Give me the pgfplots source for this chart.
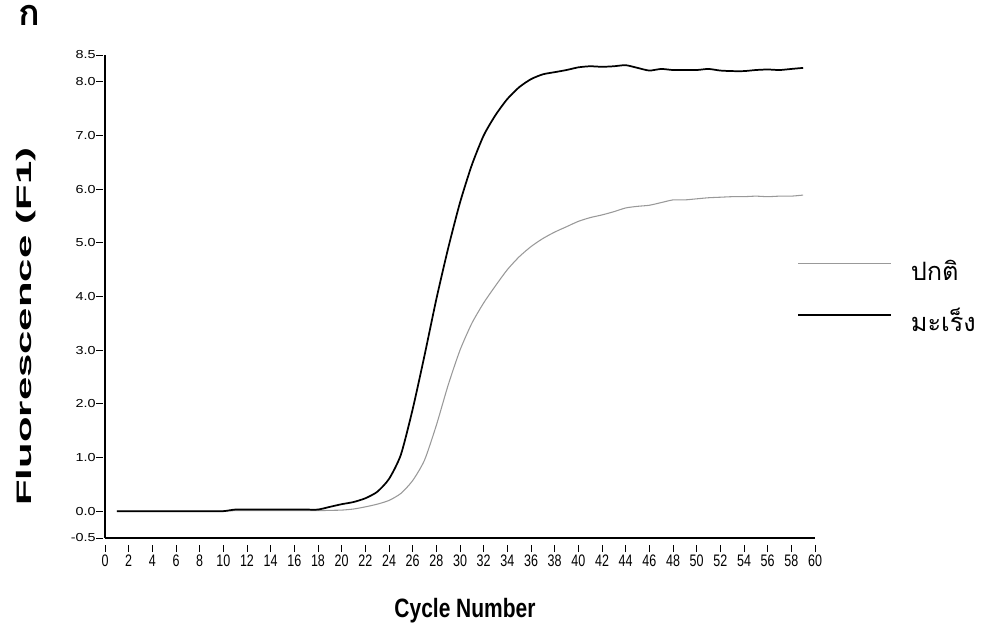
\documentclass[border=0pt]{standalone}
\usepackage{pgfplots}
\pgfplotsset{compat=1.18}
\usepackage{fontspec}
\setmainfont{Liberation Sans}
\newfontfamily\thaifont[Script=Thai]{Loma}
\begin{document}
\begin{tikzpicture}
\useasboundingbox (0,0) rectangle (735.75pt,471pt);
\node[anchor=base west, inner sep=0pt] at (13.5pt,451.5pt) {\thaifont\bfseries\fontsize{27}{30}\selectfont ก};
\begin{axis}[
  at={(78.75pt,67.5pt)}, anchor=south west,
  scale only axis, width=532.5pt, height=362.25pt,
  xmin=0, xmax=60, ymin=-0.5, ymax=8.5,
  axis x line=bottom, axis y line=left,
  axis line style={-, line width=0.8pt},
  xtick={0,2,...,60},
  ytick={-0.5,0,1,2,3,4,5,6,7,8,8.5},
  /pgf/number format/assume math mode=true,
  xticklabel={\scalebox{0.75}[1]{\pgfmathprintnumber{\tick}}},
  yticklabel={\scalebox{1.24}[1]{\pgfmathprintnumber[fixed,fixed zerofill,precision=1]{\tick}}},
  x tick label style={font=\fontsize{12.5}{14}\selectfont},
  y tick label style={font=\fontsize{8.7}{10}\selectfont},
  tick align=outside,
  major tick length=5.25pt,
  every tick/.style={black, line width=0.6pt},
  xtick style={yshift=-5.25pt},
  ytick style={xshift=-1.5pt},
  xticklabel style={inner sep=0pt, yshift=-7.5pt},
  yticklabel style={inner sep=0pt, xshift=-1.5pt},
  xlabel={\scalebox{0.79}[1]{\fontsize{19.9}{22}\selectfont\bfseries Cycle Number}},
  xlabel style={at={(axis description cs:0.507,-0.1636)}, anchor=base, inner sep=0pt},
  ylabel={\scalebox{2.0}[1]{\fontsize{15.7}{18}\selectfont\bfseries Fluorescence (F1)}},
  ylabel style={at={(axis description cs:-0.1106,0.438)}, anchor=center, inner sep=0pt},
  legend style={draw=none, fill=none, at={(axis cs:58.49,4.63)}, anchor=north west,
    inner sep=0pt, row sep=23.5pt, column sep=14pt,
    font=\thaifont\fontsize{19}{22}\selectfont,
    nodes={inner sep=0pt, text height=12pt, text depth=2pt}},
  legend cell align=left,
  legend image code/.code={\draw[#1] (0pt,7.5pt) -- (69.75pt,7.5pt);},
]
\addplot[color=black!40, line width=0.8pt, smooth, tension=0.4] coordinates {
(1,0) (2,0) (3,0) (4,0) (5,0) (6,0) (7,0) (8,0) (9,0) (10,0)
(11,0.01) (12,0.01) (13,0.01) (14,0.01) (15,0.01) (16,0.01) (17,0.01) (18,0.01)
(19,0.015) (20,0.02) (21,0.04) (22,0.08) (23,0.13) (24,0.2) (25,0.33) (26,0.57)
(27,0.95) (28,1.6) (29,2.35) (30,3.0) (31,3.5) (32,3.88) (33,4.2) (34,4.5)
(35,4.74) (36,4.93) (37,5.08) (38,5.2) (39,5.3) (40,5.4) (41,5.47) (42,5.52)
(43,5.58) (44,5.65) (45,5.68) (46,5.7) (47,5.75) (48,5.8) (49,5.8) (50,5.82)
(51,5.84) (52,5.85) (53,5.86) (54,5.86) (55,5.87) (56,5.86) (57,5.87) (58,5.87) (59,5.89)
};
\addlegendentry{ปกติ}
\addplot[color=black, line width=1.3pt, smooth, tension=0.4] coordinates {
(1,0) (2,0) (3,0) (4,0) (5,0) (6,0) (7,0) (8,0) (9,0) (10,0)
(11,0.03) (12,0.03) (13,0.03) (14,0.03) (15,0.03) (16,0.03) (17,0.03) (18,0.03)
(19,0.08) (20,0.13) (21,0.17) (22,0.24) (23,0.36) (24,0.6) (25,1.05) (26,1.9)
(27,2.9) (28,3.95) (29,4.9) (30,5.75) (31,6.45) (32,7.0) (33,7.38) (34,7.68)
(35,7.9) (36,8.05) (37,8.14) (38,8.18) (39,8.22) (40,8.27) (41,8.29) (42,8.28)
(43,8.29) (44,8.31) (45,8.26) (46,8.21) (47,8.24) (48,8.22) (49,8.22) (50,8.22)
(51,8.24) (52,8.21) (53,8.2) (54,8.2) (55,8.22) (56,8.23) (57,8.22) (58,8.24) (59,8.26)
};
\addlegendentry{มะเร็ง}
\end{axis}
\end{tikzpicture}
\end{document}
